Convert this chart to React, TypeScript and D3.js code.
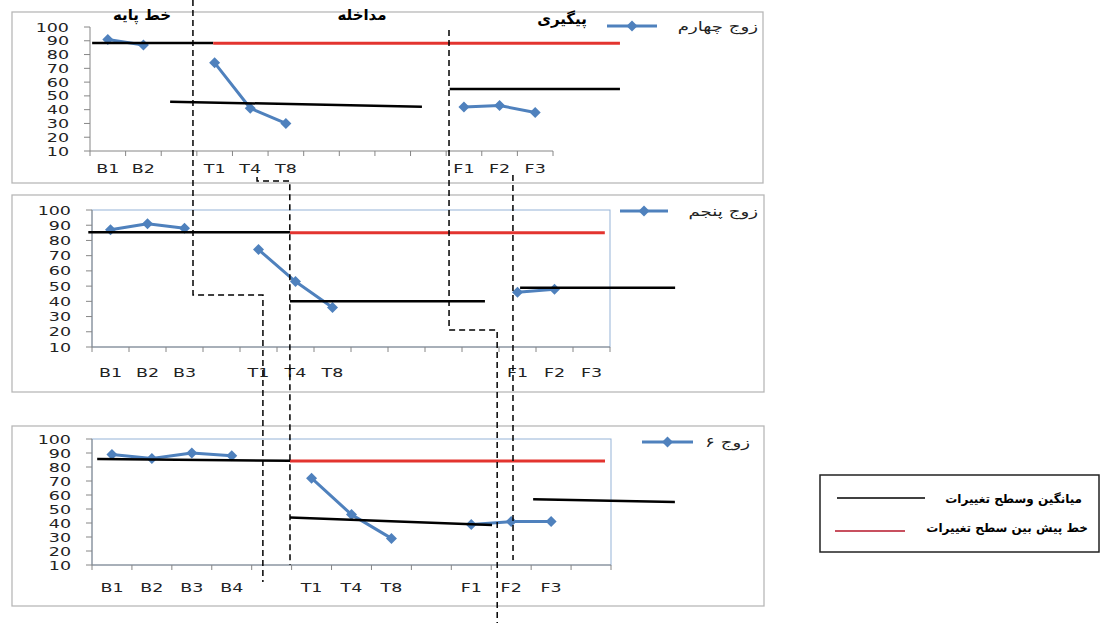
import React from "react";
import * as d3 from "d3";

// ---------- data ----------
const categories1 = ["B1", "B2", "", "T1", "T4", "T8", "", "", "", "", "F1", "F2", "F3"];
const values1: (number | null)[] = [91, 87, null, 74, 41, 30, null, null, null, null, 42, 43, 38];

const categories2 = ["B1", "B2", "B3", "", "T1", "T4", "T8", "", "", "", "", "F1", "F2", "F3"];
const values2: (number | null)[] = [87, 91, 88, null, 74, 53, 36, null, null, null, null, 46, 48, null];

const categories3 = ["B1", "B2", "B3", "B4", "", "T1", "T4", "T8", "", "F1", "F2", "F3", ""];
const values3: (number | null)[] = [89, 86, 90, 88, null, 72, 46, 29, null, 39, 41, 41, null];

const seriesNames = ["زوج چهارم", "زوج پنجم", "زوج ۶"];
const yTicks = [10, 20, 30, 40, 50, 60, 70, 80, 90, 100];
const phaseTitles = ["خط پایه", "مداخله", "پیگیری"];
const legendLabels = ["میانگین وسطح تغییرات", "خط پیش بین سطح تغییرات"];

// level lines: [panel, startIndex, endIndex, startValue, endValue, kind]
const levelLines: [number, number, number, number, number, string][] = [
  [0, 0.06, 3.46, 88.4, 88.4, "mean"],
  [0, 3.46, 14.88, 88.2, 88.2, "pred"],
  [0, 2.25, 9.32, 45.8, 42.1, "mean"],
  [0, 10.1, 14.88, 55, 55, "mean"],
  [1, -0.1, 5.35, 85.4, 85.4, "mean"],
  [1, 5.35, 13.86, 85, 85, "pred"],
  [1, 5.35, 10.62, 40, 40, "mean"],
  [1, 11.57, 15.76, 49, 49, "mean"],
  [2, 0.13, 4.96, 85.7, 84.5, "mean"],
  [2, 4.96, 12.85, 84.3, 84.3, "pred"],
  [2, 4.96, 10.02, 44, 38.6, "mean"],
  [2, 11.05, 14.6, 57, 55, "mean"],
];

// phase-change dashed paths: list of [panel, index, value]
const phaseLines: [number, number, number][][] = [
  [[0, 2.89, 119.6], [1, 2.73, 44.2], [1, 4.62, 44.2], [2, 4.28, -2.1]],
  [[0, 4.69, -8.9], [0, 4.69, -11.8], [0, 5.61, -11.8], [2, 4.96, 10]],
  [[0, 10.08, 97.8], [1, 9.65, 21.2], [1, 10.95, 21.2], [2, 10.15, -31.4]],
  [[0, 11.875, -7.4], [2, 10.546, 13.6]],
];

// ---------- layout ----------
const W = 1102;
const H = 623;
const panelLayout = [
  { box: [12, 12, 751, 171], x0: 90, x1: 553, yTop: 27, yBot: 151, border: false, leg: [607, 657, 26], legText: 758, labelY: 173 },
  { box: [12, 195, 752, 197], x0: 92, x1: 610, yTop: 210, yBot: 347, border: true, leg: [620, 668, 211], legText: 758, labelY: 377 },
  { box: [12, 426, 752, 180], x0: 92, x1: 611, yTop: 439, yBot: 565, border: true, leg: [642, 693, 442], legText: 750, labelY: 592 },
];
const titlePos = [
  [142, 20],
  [362, 20],
  [562, 24],
];

const BLUE = "#4f81bd";
const RED = "#e3342f";
const AXIS = "#868686";
const FONT = "'DejaVu Sans', Verdana, sans-serif";
const SX = 1.4;

const diamond = "M0,-5.5L5.5,0L0,5.5L-5.5,0Z";

export default function App() {
  const allCats = [categories1, categories2, categories3];
  const allVals = [values1, values2, values3];

  const scales = panelLayout.map((p, k) => {
    const n = allCats[k].length;
    const x = d3.scaleLinear().domain([0, n]).range([p.x0, p.x1]);
    const y = d3.scaleLinear().domain([10, 100]).range([p.yBot, p.yTop]);
    return { x, y, n };
  });

  return (
    <svg
      width={W}
      height={H}
      viewBox={`0 0 ${W} ${H}`}
      style={{ position: "absolute", left: 0, top: 0, background: "#fff" }}
    >
      <rect x={0} y={0} width={W} height={H} fill="#fff" />
      {panelLayout.map((p, k) => {
        const { x, y, n } = scales[k];
        const cats = allCats[k];
        const vals = allVals[k];
        const pts = vals.map((v, i) => ({ i, v }));
        const line = d3
          .line<{ i: number; v: number | null }>()
          .defined((d) => d.v != null)
          .x((d) => x(d.i + 0.5))
          .y((d) => y(d.v as number));
        const [bx, by, bw, bh] = p.box;
        return (
          <g key={k}>
            <rect x={bx} y={by} width={bw} height={bh} fill="#fff" stroke="#b8b8b8" strokeWidth={1.3} />
            {p.border && (
              <rect x={p.x0} y={p.yTop} width={p.x1 - p.x0} height={p.yBot - p.yTop} fill="none" stroke="#95b3d7" strokeWidth={1} />
            )}
            {/* y axis */}
            <line x1={p.x0} x2={p.x0} y1={y(100)} y2={y(10)} stroke={AXIS} strokeWidth={1} />
            {yTicks.map((t) => (
              <g key={t}>
                <line x1={p.x0 - 6} x2={p.x0} y1={y(t)} y2={y(t)} stroke={AXIS} />
                <text
                  transform={`translate(${p.x0 - 21},${y(t) + 4.5}) scale(${SX},1)`}
                  textAnchor="end"
                  fontFamily={FONT}
                  fontSize={12.5}
                  fill="#222"
                >
                  {t}
                </text>
              </g>
            ))}
            {/* x axis */}
            <line x1={p.x0} x2={p.x1} y1={p.yBot} y2={p.yBot} stroke={AXIS} strokeWidth={1} />
            {d3.range(n + 1).map((i) => (
              <line key={i} x1={x(i)} x2={x(i)} y1={p.yBot} y2={p.yBot + 5} stroke={AXIS} />
            ))}
            {cats.map((c, i) =>
              c ? (
                <text
                  key={i}
                  transform={`translate(${x(i + 0.5)},${p.labelY}) scale(${SX},1)`}
                  textAnchor="middle"
                  fontFamily={FONT}
                  fontSize={12.5}
                  fill="#222"
                >
                  {c}
                </text>
              ) : null
            )}
            {/* series */}
            <path d={line(pts) || ""} fill="none" stroke={BLUE} strokeWidth={3} strokeLinejoin="round" />
            {pts
              .filter((d) => d.v != null)
              .map((d) => (
                <path key={d.i} d={diamond} transform={`translate(${x(d.i + 0.5)},${y(d.v as number)})`} fill={BLUE} />
              ))}
            {/* legend */}
            <line x1={p.leg[0]} x2={p.leg[1]} y1={p.leg[2]} y2={p.leg[2]} stroke={BLUE} strokeWidth={3} />
            <path d={diamond} transform={`translate(${(p.leg[0] + p.leg[1]) / 2},${p.leg[2]})`} fill={BLUE} />
            <text
              transform={`translate(${p.legText},${p.leg[2] + 5}) scale(1.35,1)`}
              textAnchor="end"
              fontFamily={FONT}
              fontSize={13.5}
              fill="#222"
            >
              {seriesNames[k]}
            </text>
          </g>
        );
      })}

      {/* level lines */}
      {levelLines.map(([pk, i1, i2, v1, v2, kind], j) => {
        const { x, y } = scales[pk];
        return (
          <line
            key={j}
            x1={x(i1)}
            x2={x(i2)}
            y1={y(v1)}
            y2={y(v2)}
            stroke={kind === "pred" ? RED : "#000"}
            strokeWidth={kind === "pred" ? 3 : 2.5}
          />
        );
      })}

      {/* phase titles */}
      {phaseTitles.map((t, j) => (
        <text
          key={j}
          x={titlePos[j][0]}
          y={titlePos[j][1]}
          textAnchor="middle"
          fontFamily={FONT}
          fontWeight="bold"
          fontSize={15}
          fill="#000"
        >
          {t}
        </text>
      ))}

      {/* phase change dashed lines */}
      {phaseLines.map((pl, j) => {
        const d = d3
          .line<[number, number, number]>()
          .x((q) => scales[q[0]].x(q[1]))
          .y((q) => scales[q[0]].y(q[2]))(pl);
        return <path key={j} d={d || ""} fill="none" stroke="#000" strokeWidth={1.5} strokeDasharray="6,4" />;
      })}

      {/* global legend */}
      <rect x={820} y={475} width={279} height={77} fill="#fff" stroke="#222" strokeWidth={1.5} />
      <line x1={837} x2={925} y1={498} y2={498} stroke="#000" strokeWidth={1.5} />
      <text x={1082} y={503} textAnchor="end" fontFamily={FONT} fontWeight="bold" fontSize={12} fill="#000">
        {legendLabels[0]}
      </text>
      <line x1={835} x2={905} y1={531} y2={531} stroke="#c8505f" strokeWidth={2} />
      <text x={1088} y={532} textAnchor="end" fontFamily={FONT} fontWeight="bold" fontSize={12} fill="#000">
        {legendLabels[1]}
      </text>
    </svg>
  );
}
